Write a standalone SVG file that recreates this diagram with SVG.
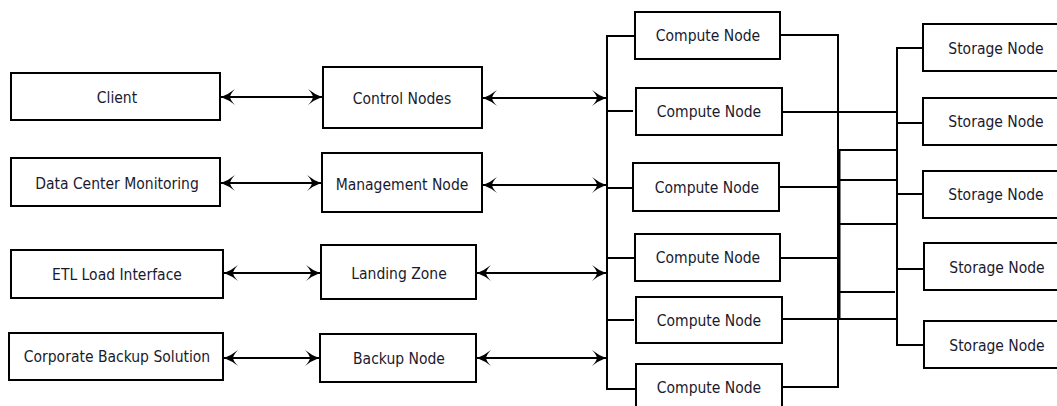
<svg xmlns="http://www.w3.org/2000/svg" width="1057" height="406" viewBox="0 0 1057 406">
<defs>
<style>
.box{fill:#fff;stroke:#000;stroke-width:2}
.lbl{font-family:"DejaVu Sans Condensed","DejaVu Sans",sans-serif;font-size:15.5px;fill:#1a1a2e;text-anchor:middle}
.ln{fill:none;stroke:#000;stroke-width:2}
.ar{fill:none;stroke:#000;stroke-width:2;marker-start:url(#ah);marker-end:url(#ah)}
</style>
<marker id="ah" markerUnits="userSpaceOnUse" markerWidth="15" markerHeight="16" viewBox="0 0 15 16" refX="14" refY="8" orient="auto-start-reverse">
<path d="M14,8 Q6,5 0,0 Q4.5,4.5 5,8 Q4.5,11.5 0,16 Q6,11 14,8 Z" fill="#000"/>
</marker>
</defs>
<rect width="1057" height="406" fill="#fff"/>

<g id="connectors">
<line class="ar" x1="221" y1="97" x2="322" y2="97"/>
<line class="ar" x1="221" y1="183" x2="321" y2="183"/>
<line class="ar" x1="224" y1="273" x2="320" y2="273"/>
<line class="ar" x1="224" y1="358" x2="319" y2="358"/>
<line class="ar" x1="483" y1="98" x2="606" y2="98"/>
<line class="ar" x1="483" y1="185" x2="606" y2="185"/>
<line class="ar" x1="477" y1="273" x2="606" y2="273"/>
<line class="ar" x1="477" y1="358" x2="606" y2="358"/>
<path class="ln" d="M635,36 H607 V389 H636"/>
<path class="ln" d="M607,111 H633 M607,188 H633 M607,258 H635 M607,320 H634"/>
<path class="ln" d="M780,35 H838 V387 H782"/>
<path class="ln" d="M782,112 H897 M779,187 H838 M780,258 H838 M782,319 H897"/>
<path class="ln" d="M838,150 H897 M838,180 H897 M838,224 H897 M838,292 H895"/>
<line x1="839" y1="150" x2="839" y2="319" stroke="#000" stroke-width="3"/>
<path class="ln" d="M923,48 H897 V345 H924"/>
<path class="ln" d="M897,123 H923 M897,194 H923 M897,269 H924"/>
</g>

<g id="client"><rect class="box" x="11" y="73" width="209" height="47"/><text class="lbl" x="117" y="103">Client</text></g>
<g id="dcm"><rect class="box" x="11" y="158" width="209" height="48"/><text class="lbl" x="117" y="189">Data Center Monitoring</text></g>
<g id="etl"><rect class="box" x="11" y="250" width="212" height="48"/><text class="lbl" x="117" y="280">ETL Load Interface</text></g>
<g id="corp"><rect class="box" x="9" y="333" width="214" height="47"/><text class="lbl" x="117" y="362">Corporate Backup Solution</text></g>

<g id="control"><rect class="box" x="323" y="67" width="159" height="61"/><text class="lbl" x="402" y="104">Control Nodes</text></g>
<g id="management"><rect class="box" x="322" y="153" width="160" height="59"/><text class="lbl" x="402" y="190">Management Node</text></g>
<g id="landing"><rect class="box" x="321" y="245" width="155" height="54"/><text class="lbl" x="399" y="279">Landing Zone</text></g>
<g id="backup"><rect class="box" x="320" y="334" width="156" height="48"/><text class="lbl" x="399" y="364">Backup Node</text></g>

<g id="cn1"><rect class="box" x="635" y="12" width="145" height="47"/><text class="lbl" x="708" y="41">Compute Node</text></g>
<g id="cn2"><rect class="box" x="636" y="88" width="146" height="47"/><text class="lbl" x="709" y="117">Compute Node</text></g>
<g id="cn3"><rect class="box" x="633" y="163" width="146" height="48"/><text class="lbl" x="707" y="193">Compute Node</text></g>
<g id="cn4"><rect class="box" x="635" y="234" width="145" height="47"/><text class="lbl" x="708" y="263">Compute Node</text></g>
<g id="cn5"><rect class="box" x="636" y="297" width="146" height="46"/><text class="lbl" x="709" y="326">Compute Node</text></g>
<g id="cn6"><rect class="box" x="636" y="364" width="146" height="47"/><text class="lbl" x="709" y="393">Compute Node</text></g>

<g id="sn1"><rect class="box" x="923" y="24" width="146" height="47"/><text class="lbl" x="996" y="54">Storage Node</text></g>
<g id="sn2"><rect class="box" x="923" y="98" width="146" height="47"/><text class="lbl" x="996" y="127">Storage Node</text></g>
<g id="sn3"><rect class="box" x="923" y="171" width="146" height="47"/><text class="lbl" x="996" y="200">Storage Node</text></g>
<g id="sn4"><rect class="box" x="924" y="243" width="146" height="47"/><text class="lbl" x="997" y="273">Storage Node</text></g>
<g id="sn5"><rect class="box" x="924" y="321" width="146" height="47"/><text class="lbl" x="997" y="351">Storage Node</text></g>
</svg>
